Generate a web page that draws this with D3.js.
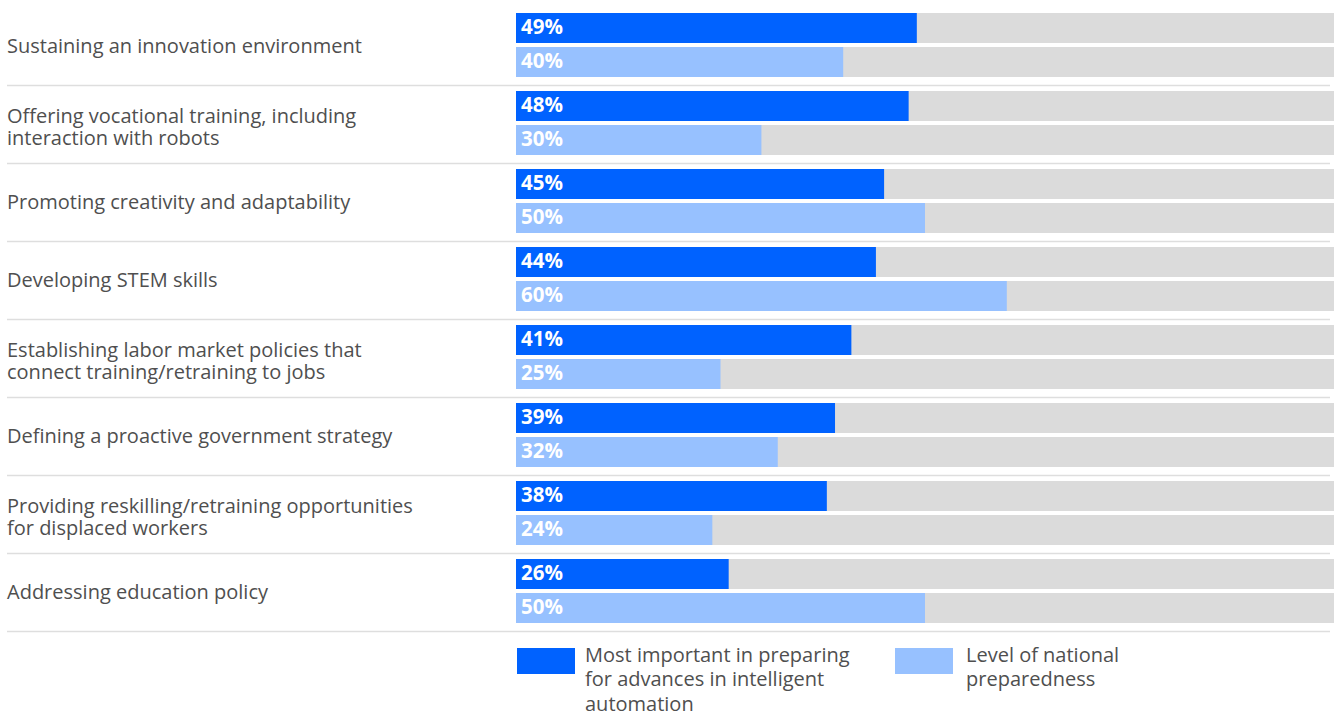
<!DOCTYPE html>
<html>
<head>
<meta charset="utf-8">
<script src="https://cdn.jsdelivr.net/npm/d3@7"></script>
<style>
  html, body { margin: 0; padding: 0; background: #fff; }
  svg { display: block; font-family: "Open Sans", "Noto Sans", sans-serif; }
</style>
</head>
<body>
<svg id="chart" width="1334" height="713"></svg>
<script>
// Survey items and their two measures (percent)
const categories = [
  ["Sustaining an innovation environment"],
  ["Offering vocational training, including", "interaction with robots"],
  ["Promoting creativity and adaptability"],
  ["Developing STEM skills"],
  ["Establishing labor market policies that", "connect training/retraining to jobs"],
  ["Defining a proactive government strategy"],
  ["Providing reskilling/retraining opportunities", "for displaced workers"],
  ["Addressing education policy"]
];
const mostImportant = [49, 48, 45, 44, 41, 39, 38, 26];
const preparedness  = [40, 30, 50, 60, 25, 32, 24, 50];
const seriesNames = [
  ["Most important in preparing", "for advances in intelligent", "automation"],
  ["Level of national", "preparedness"]
];
const seriesColors = ["#0062ff", "#97c1ff"];

const svg = d3.select("#chart");

const x = d3.scaleLinear().domain([0, 100]).range([516, 1334]);
const groupY = d3.scaleBand()
  .domain(d3.range(categories.length))
  .range([8, 8 + 78 * categories.length])
  .padding(0);
const barY = d3.scaleBand().domain([0, 1]).range([5, 69]).paddingInner(4 / 34);

const rows = svg.selectAll("g.row")
  .data(categories.map((c, i) => ({ label: c, vals: [mostImportant[i], preparedness[i]] })))
  .join("g")
  .attr("class", "row")
  .attr("transform", (d, i) => `translate(0,${groupY(i)})`);

// category labels (baselines), 22px line spacing
rows.append("text")
  .attr("fill", "#4f4f4f")
  .style("font-size", "20px")
  .selectAll("tspan")
  .data(d => d.label.map((t, i) => ({ t, i, n: d.label.length })))
  .join("tspan")
  .attr("x", 7)
  .attr("y", d => 44.5 - (d.n - 1) * 7.5 + d.i * 22)
  .text(d => d.t);

// separators
rows.append("line")
  .attr("x1", 7).attr("x2", 1330)
  .attr("y1", 77.5).attr("y2", 77.5)
  .attr("stroke", "#dedede")
  .attr("stroke-width", 1.5);

const bars = rows.selectAll("g.bar")
  .data(d => d.vals.map((v, k) => ({ v, k })))
  .join("g")
  .attr("class", "bar")
  .attr("transform", d => `translate(0,${barY(d.k)})`);

// background track
bars.append("rect")
  .attr("x", x(0)).attr("y", 0)
  .attr("width", x(100) - x(0))
  .attr("height", barY.bandwidth())
  .attr("fill", "#dbdbdb");

bars.append("rect")
  .attr("x", x(0)).attr("y", 0)
  .attr("width", d => x(d.v) - x(0))
  .attr("height", barY.bandwidth())
  .attr("fill", d => seriesColors[d.k]);

bars.append("text")
  .attr("x", x(0) + 5)
  .attr("y", barY.bandwidth() / 2 - 1)
  .attr("dy", "0.36em")
  .attr("fill", "#fff")
  .style("font-size", "20.5px")
  .style("font-weight", "700")
  .text(d => d.v + "%");

// legend
const legendX = [517, 895];
const legendTextX = [68, 71];
const legend = svg.selectAll("g.legend")
  .data(seriesNames)
  .join("g")
  .attr("class", "legend")
  .attr("transform", (d, i) => `translate(${legendX[i]},648)`);

legend.append("rect")
  .attr("width", 58).attr("height", 26)
  .attr("fill", (d, i) => seriesColors[i]);

legend.append("text")
  .attr("fill", "#4f4f4f")
  .style("font-size", "20px")
  .each(function (d, i) {
    d3.select(this).selectAll("tspan")
      .data(d)
      .join("tspan")
      .attr("x", legendTextX[i])
      .attr("y", (t, j) => 13.5 + j * 24.5)
      .text(t => t);
  });
</script>
</body>
</html>
